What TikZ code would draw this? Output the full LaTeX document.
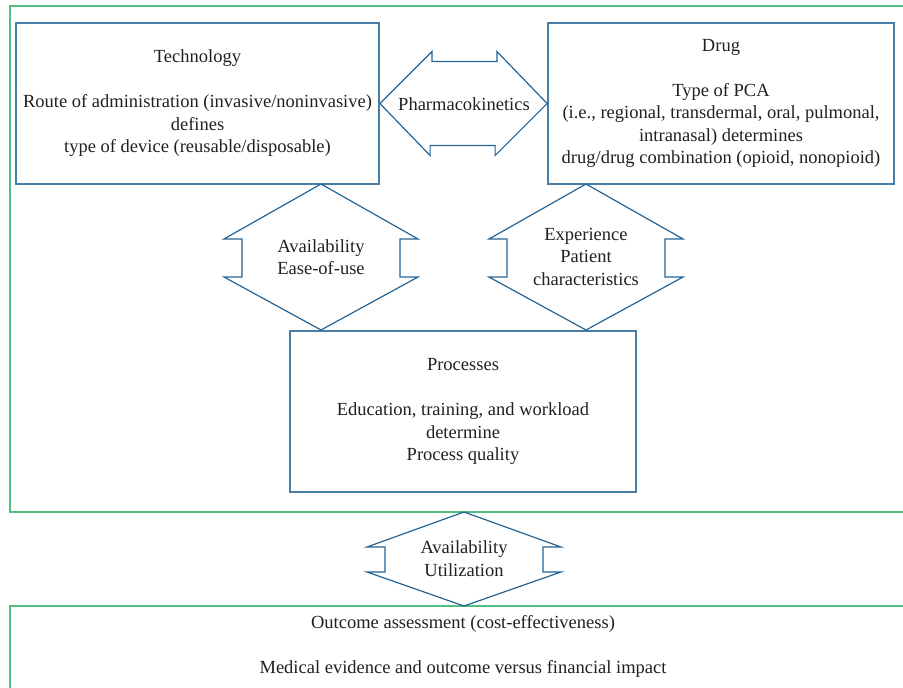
\documentclass[tikz,border=0pt]{standalone}
\usepackage{fontspec}
\setmainfont{Liberation Serif}
\definecolor{framegreen}{RGB}{80,190,128}
\definecolor{boxblue}{RGB}{72,125,165}
\definecolor{arrowblue}{RGB}{36,100,150}
\definecolor{txt}{RGB}{35,31,32}
\begin{document}
\begin{tikzpicture}[x=1bp,y=-1bp,
  every node/.style={text=txt, font=\fontsize{18.5bp}{22.5bp}\selectfont, align=center, inner sep=0pt},
  frame/.style={draw=framegreen, line width=2bp},
  bluebox/.style={draw=boxblue, line width=1.8bp, inner sep=0pt},
  blockarrow/.style={draw=arrowblue, line width=1.2bp, line join=miter}]
\path[use as bounding box] (0,0) rectangle (903,688);
\clip (0,0) rectangle (903,688);

% green frames
\draw[frame] (10,6) rectangle (930,512);
\draw[frame] (10,606) rectangle (930,720);

% boxes
\node[bluebox, minimum width=363bp, minimum height=161bp] (tech) at (197.5,103.5)
  {Technology\\[22.5bp]Route of administration (invasive/noninvasive)\\defines\\type of device (reusable/disposable)};
\node[bluebox, minimum width=346bp, minimum height=161bp] (drug) at (721,103.5)
  {Drug\\[22.5bp]Type of PCA\\(i.e., regional, transdermal, oral, pulmonal,\\intranasal) determines\\drug/drug combination (opioid, nonopioid)};
\node[bluebox, minimum width=346bp, minimum height=161bp] (proc) at (463,411.5)
  {Processes\\[22.5bp]Education, training, and workload\\determine\\Process quality};
\node (outcome) at (463,646.5)
  {Outcome assessment (cost-effectiveness)\\[22.5bp]Medical evidence and outcome versus financial impact};

% block arrows
\draw[blockarrow] (tech.east) -- ++(52,-52) -- ++(0,10) -- ++(65,0) -- ++(0,-10)
  -- (drug.west) -- ++(-52,52) -- ++(0,-10) -- ++(-65,0) -- ++(0,10) -- cycle;
\node (pk) at (464,104) {Pharmacokinetics};

\draw[blockarrow] (321,184) -- (418,239) -- (400,239) -- (400,277) -- (418,277) -- (321,330)
  -- (224,277) -- (242,277) -- (242,239) -- (224,239) -- cycle;
\node (avail) at (321,257) {Availability\\Ease-of-use};

\draw[blockarrow] (586,184) -- (683,239) -- (665,239) -- (665,277) -- (683,277) -- (586,330)
  -- (489,277) -- (507,277) -- (507,239) -- (489,239) -- cycle;
\node (exp) at (586,256.5) {Experience\\Patient\\characteristics};

\draw[blockarrow] (464,512) -- (561,547) -- (543,547) -- (543,572) -- (561,572) -- (464,606)
  -- (367,572) -- (385,572) -- (385,547) -- (367,547) -- cycle;
\node (util) at (464,558.5) {Availability\\Utilization};
\end{tikzpicture}
\end{document}
